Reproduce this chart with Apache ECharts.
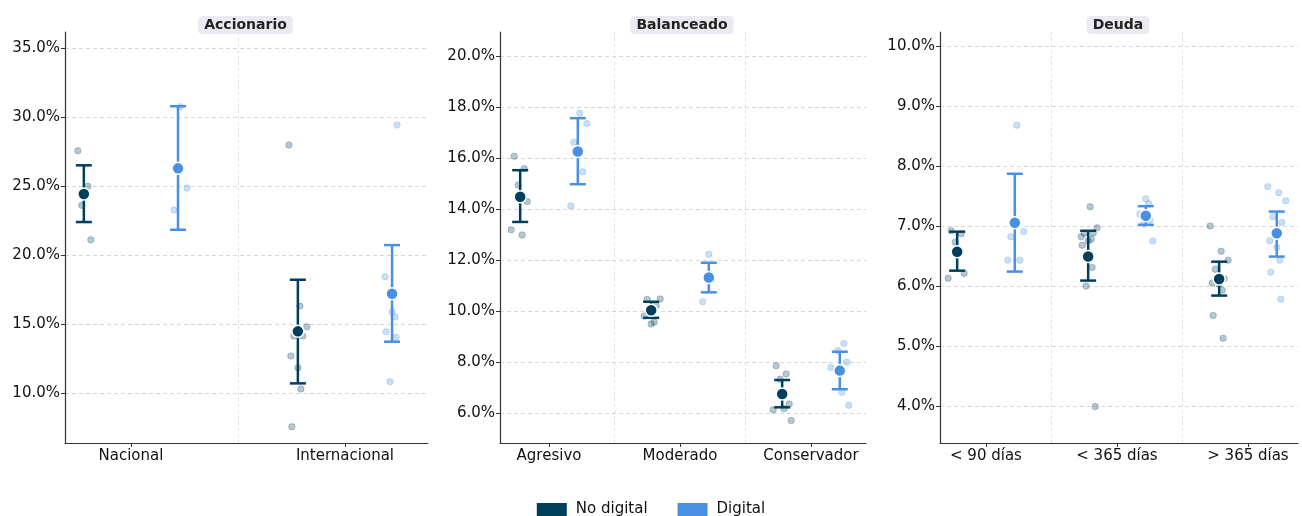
<!DOCTYPE html>
<html>
<head>
<meta charset="utf-8">
<script src="https://cdn.jsdelivr.net/npm/echarts@6/dist/echarts.min.js"></script>
<style>
  html, body { margin: 0; padding: 0; background: #fff; }
  #chart { width: 1302px; height: 516px; }
</style>
</head>
<body>
<div id="chart"></div>
<script>
// ---- data (percent) ----
const accCats = ['Nacional', 'Internacional'];
const accNoDigPts = [[27.55, 24.98, 23.6, 21.1], [27.97, 16.3, 14.8, 14.13, 14.13, 12.68, 11.84, 10.29, 7.56]];
const accDigPts = [[30.75, 24.86, 23.26], [29.42, 18.43, 15.89, 15.51, 14.44, 14.04, 10.82]];
const accNoDigMean = [24.42, 14.47];
const accNoDigLo = [22.39, 10.70];
const accNoDigHi = [26.5, 18.21];
const accDigMean = [26.28, 17.2];
const accDigLo = [21.83, 13.72];
const accDigHi = [30.78, 20.72];
const accTicks = [10, 15, 20, 25, 30, 35];

const balCats = ['Agresivo', 'Moderado', 'Conservador'];
const balNoDigPts = [[16.07, 15.58, 14.94, 14.29, 13.18, 12.98], [10.47, 10.45, 10.2, 9.8, 9.49, 9.56], [7.85, 7.53, 7.32, 6.35, 6.12, 6.17, 5.70]];
const balDigPts = [[17.75, 17.35, 16.62, 15.46, 14.12], [12.22, 11.22, 10.36], [8.72, 8.44, 7.99, 7.78, 6.81, 6.30]];
const balNoDigMean = [14.48, 10.03, 6.745];
const balNoDigLo = [13.49, 9.73, 6.22];
const balNoDigHi = [15.52, 10.36, 7.29];
const balDigMean = [16.25, 11.31, 7.66];
const balDigLo = [14.97, 10.73, 6.93];
const balDigHi = [17.56, 11.89, 8.40];
const balTicks = [6, 8, 10, 12, 14, 16, 18, 20];

const deuCats = ['< 90 días', '< 365 días', '> 365 días'];
const deuNoDigPts = [[6.92, 6.87, 6.73, 6.21, 6.13], [7.32, 6.97, 6.88, 6.88, 6.82, 6.75, 6.78, 6.68, 6.31, 6.0, 3.99], [7.0, 6.58, 6.43, 6.28, 6.12, 6.05, 6.03, 5.93, 5.51, 5.13]];
const deuDigPts = [[8.68, 6.91, 6.82, 6.43, 6.43], [7.45, 7.37, 7.20, 7.10, 7.03, 6.75], [7.655, 7.555, 7.42, 7.155, 7.06, 6.755, 6.645, 6.43, 6.23, 5.78]];
const deuNoDigMean = [6.57, 6.49, 6.117];
const deuNoDigLo = [6.255, 6.09, 5.84];
const deuNoDigHi = [6.905, 6.92, 6.405];
const deuDigMean = [7.055, 7.17, 6.88];
const deuDigLo = [6.24, 7.02, 6.49];
const deuDigHi = [7.87, 7.33, 7.24];
const deuTicks = [4, 5, 6, 7, 8, 9, 10];

// ---- look ----
const NODIG = '#003f5c';
const DIG = '#4a90e2';
const FONT = 'DejaVu Sans';
const JITTER_PX = [-6, 4, -2, 7, -9, 2, 9, -4, 5, -7, 0, 3];
const DODGE = 0.22;

const panels = [
  { title: 'Accionario', cats: accCats, ticks: accTicks,
    left: 65, width: 363, xMin: -0.308, xMax: 1.388, yMin: 6.38, yMax: 36.16,
    noDig: [accNoDigPts, accNoDigMean, accNoDigLo, accNoDigHi],
    dig: [accDigPts, accDigMean, accDigLo, accDigHi] },
  { title: 'Balanceado', cats: balCats, ticks: balTicks,
    left: 500, width: 366, xMin: -0.374, xMax: 2.42, yMin: 4.82, yMax: 20.94,
    noDig: [balNoDigPts, balNoDigMean, balNoDigLo, balNoDigHi],
    dig: [balDigPts, balDigMean, balDigLo, balDigHi] },
  { title: 'Deuda', cats: deuCats, ticks: deuTicks,
    left: 940, width: 358, xMin: -0.351, xMax: 2.382, yMin: 3.383, yMax: 10.233,
    noDig: [deuNoDigPts, deuNoDigMean, deuNoDigLo, deuNoDigHi],
    dig: [deuDigPts, deuDigMean, deuDigLo, deuDigHi] }
];

const TOP = 32, HEIGHT = 411;

const grid = [], xAxis = [], yAxis = [], series = [], title = [];

function errRender(color) {
  return function (params, api) {
    const x = api.value(0);
    const top = api.coord([x, api.value(2)]);
    const bot = api.coord([x, api.value(1)]);
    const w = 8;
    const st = { stroke: color, lineWidth: 2.5 };
    return {
      type: 'group',
      children: [
        { type: 'line', shape: { x1: top[0], y1: top[1], x2: bot[0], y2: bot[1] }, style: st },
        { type: 'line', shape: { x1: top[0] - w, y1: top[1], x2: top[0] + w, y2: top[1] }, style: st },
        { type: 'line', shape: { x1: bot[0] - w, y1: bot[1], x2: bot[0] + w, y2: bot[1] }, style: st }
      ]
    };
  };
}

panels.forEach((p, i) => {
  grid.push({ left: p.left, width: p.width, top: TOP, height: HEIGHT });
  title.push({
    text: p.title, left: p.left + p.width / 2 - 7, top: 16, textAlign: 'center',
    backgroundColor: '#eaeaf2', borderRadius: 4, padding: [2, 6, 2, 6],
    textStyle: { fontFamily: FONT, fontWeight: 'bold', fontSize: 14, color: '#222' }
  });
  const catIdx = p.cats.map((c, k) => k);
  xAxis.push({
    type: 'value', gridIndex: i, min: p.xMin, max: p.xMax,
    axisLine: { show: true, onZero: false, lineStyle: { color: '#333', width: 1.2 } },
    axisTick: { show: true, customValues: catIdx, length: 4, lineStyle: { color: '#333' } },
    axisLabel: { customValues: catIdx, formatter: v => p.cats[Math.round(v)] || '',
      fontFamily: FONT, fontSize: 15, color: '#111', margin: 6 },
    splitLine: { show: false }
  });
  yAxis.push({
    type: 'value', gridIndex: i, min: p.yMin, max: p.yMax,
    axisLine: { show: true, onZero: false, lineStyle: { color: '#333', width: 1.2 } },
    axisTick: { show: true, customValues: p.ticks, length: 4, lineStyle: { color: '#333' } },
    axisLabel: { customValues: p.ticks, formatter: v => v.toFixed(1) + '%',
      fontFamily: FONT, fontSize: 15, color: '#111', margin: 5 },
    splitLine: { show: true, lineStyle: { type: [4, 3], color: '#cccccc', width: 0.8 } }
  });

  const pxPerUnit = p.width / (p.xMax - p.xMin);
  const seps = p.cats.slice(1).map((c, k) => ({ xAxis: k + 0.5 }));

  [[p.noDig, NODIG, 'rgba(0,63,92,0.36)', -DODGE, 'No digital'],
   [p.dig, DIG, 'rgba(74,144,226,0.36)', DODGE, 'Digital']].forEach(([grp, col, ptCol, off, name], gi) => {
    const [pts, mean, lo, hi] = grp;
    const raw = [];
    let j = gi * 5;
    pts.forEach((vals, c) => {
      vals.forEach(v => {
        raw.push([c + off + JITTER_PX[j % JITTER_PX.length] / pxPerUnit, v]);
        j++;
      });
    });
    series.push({
      type: 'scatter', name: name + ' obs', xAxisIndex: i, yAxisIndex: i,
      data: raw, symbolSize: 6.5, silent: true, z: 2,
      itemStyle: { color: ptCol, borderColor: ptCol, borderWidth: 0.8 },
      markLine: gi === 0 ? {
        silent: true, symbol: 'none', label: { show: false },
        lineStyle: { type: [3, 3], color: '#d8d8d8', width: 0.8 },
        data: seps
      } : undefined
    });
    series.push({
      type: 'custom', name: name + ' ci', xAxisIndex: i, yAxisIndex: i, z: 3,
      renderItem: errRender(col),
      encode: { x: 0, y: [1, 2] },
      data: mean.map((m, c) => [c + off, lo[c], hi[c]])
    });
    series.push({
      type: 'scatter', name: name, xAxisIndex: i, yAxisIndex: i, z: 4,
      data: mean.map((m, c) => [c + off, m]), symbolSize: 12,
      itemStyle: { color: col, borderColor: '#fff', borderWidth: 1.5, opacity: 1 }
    });
  });
});

const chart = echarts.init(document.getElementById('chart'), null, { renderer: 'canvas' });
chart.setOption({
  animation: false,
  backgroundColor: '#fff',
  title,
  grid, xAxis, yAxis, series,
  legend: {
    data: ['No digital', 'Digital'], top: 497, left: 'center',
    icon: 'rect', itemWidth: 30, itemHeight: 13, itemGap: 30,
    itemStyle: { borderWidth: 0 },
    textStyle: { fontFamily: FONT, fontSize: 15, color: '#111', padding: [0, 0, 0, 4] }
  }
});
</script>
</body>
</html>
